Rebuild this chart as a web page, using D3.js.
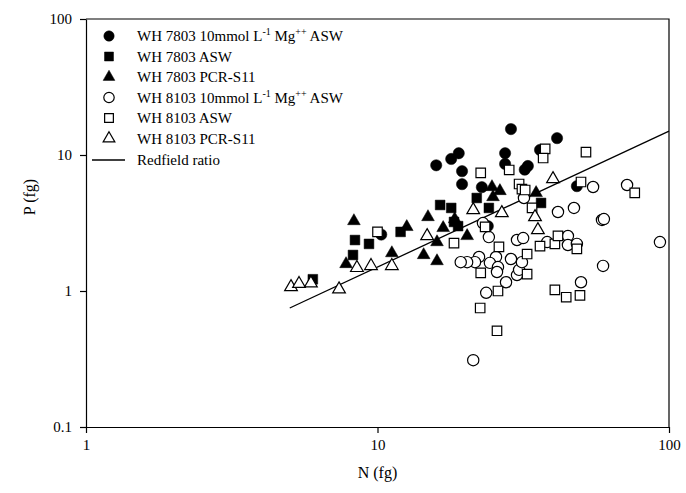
<!DOCTYPE html>
<meta charset="utf-8">
<html lang="en">
<head>
<title>N vs P cell quota</title>
<script src="https://d3js.org/d3.v7.min.js"></script>
<style>
  html, body { margin: 0; padding: 0; background: #fff; }
  svg text { font-family: "Liberation Serif", "Times New Roman", serif; fill: #000; }
  .axis path, .axis line { stroke: #000; stroke-width: 1.2px; }
  .axis text { font-size: 15px; }
</style>
</head>
<body>
<div id="chart"></div>
<script>
// values (N and P in fg per cell)
const wh7803MgN = [15.9, 17.9, 19.0, 19.5, 19.5, 22.8, 28.7, 27.4, 27.4, 36.1, 41.3, 32.8, 32.0, 48.3, 23.9, 10.3];
const wh7803MgP = [8.4, 9.35, 10.3, 7.6, 6.1, 5.8, 15.5, 10.3, 8.6, 10.9, 13.3, 8.3, 7.8, 5.9, 3.0, 2.6];

const wh7803AswN = [6.0, 8.37, 8.24, 9.35, 12.0, 16.4, 17.9, 18.3, 21.9, 24.1, 36.4, 18.9];
const wh7803AswP = [1.22, 2.37, 1.84, 2.22, 2.72, 4.29, 4.08, 3.22, 4.83, 4.08, 4.44, 3.0];

const wh7803PcrN = [7.8, 8.3, 11.2, 12.6, 14.9, 14.4, 16.0, 16.0, 16.8, 18.4, 20.3, 24.7, 26.3, 24.9, 35.0];
const wh7803PcrP = [1.58, 3.27, 1.90, 2.96, 3.50, 1.84, 1.66, 2.29, 2.91, 3.38, 2.54, 5.82, 5.44, 4.91, 5.26];

const wh8103MgN = [54.9, 71.8, 41.6, 47.2, 58.9, 59.8, 31.8, 23.0, 24.1, 30.1, 31.6, 38.2, 45.0, 45.0, 48.3, 93.1,
                   59.4, 49.9, 23.6, 21.3, 27.6, 30.1, 30.6, 31.3, 28.7, 25.5, 22.3, 21.6, 20.3, 19.3, 24.3, 25.9, 25.7];
const wh8103MgP = [5.82, 6.02, 3.81, 4.08, 3.33, 3.38, 4.83, 3.16, 2.49, 2.37, 2.45, 2.29, 2.54, 2.18, 2.22, 2.29,
                   1.53, 1.16, 0.97, 0.31, 1.16, 1.31, 1.43, 1.63, 1.72, 1.78, 1.78, 1.63, 1.63, 1.63, 1.61, 1.50, 1.38];

const wh8103AswN = [37.6, 37.0, 51.9, 22.6, 28.3, 30.6, 31.3, 32.1, 49.9, 76.3, 33.9, 23.4, 18.3, 26.1, 32.6, 36.1,
                    40.6, 41.6, 48.3, 22.6, 32.6, 25.9, 40.6, 44.4, 49.5, 22.5, 25.7, 10.0];
const wh8103AswP = [11.1, 9.5, 10.5, 7.38, 7.76, 6.12, 5.62, 5.53, 6.33, 5.26, 4.08, 2.96, 2.25, 2.11, 1.87, 2.14,
                    2.22, 2.54, 2.04, 1.36, 1.33, 1.0, 1.02, 0.90, 0.93, 0.75, 0.51, 2.72];

const wh8103PcrN = [5.05, 5.38, 5.91, 7.38, 8.5, 9.5, 11.2, 14.8, 21.3, 26.7, 34.7, 35.5, 40.0];
const wh8103PcrP = [1.07, 1.13, 1.14, 1.03, 1.48, 1.53, 1.53, 2.54, 3.94, 3.75, 3.50, 2.81, 6.66];

const redfieldN = [5, 100];
const redfieldP = [0.75, 15];

const xTicks = [1, 10, 100];
const yTicks = [0.1, 1, 10, 100];

const width = 686, height = 493;
const margin = {left: 86, right: 17, top: 19, bottom: 66};

const svg = d3.select("#chart").append("svg")
    .attr("width", width)
    .attr("height", height);

const x = d3.scaleLog().domain([1, 100]).range([margin.left, width - margin.right]);
const y = d3.scaleLog().domain([0.1, 100]).range([height - margin.bottom, margin.top]);

// frame (top and right)
svg.append("path")
    .attr("d", `M${x(1)},${y(100)}H${x(100)}V${y(0.1)}`)
    .attr("fill", "none").attr("stroke", "#000").attr("stroke-width", 1.2);

svg.append("g").attr("class", "axis")
    .attr("transform", `translate(0,${y(0.1)})`)
    .call(d3.axisBottom(x).tickValues(xTicks).tickFormat(d3.format("")).tickSize(6).tickSizeOuter(0).tickPadding(6));

svg.append("g").attr("class", "axis")
    .attr("transform", `translate(${x(1)},0)`)
    .call(d3.axisLeft(y).tickValues(yTicks).tickFormat(d => d < 1 ? "0.1" : d3.format("")(d)).tickSize(6).tickSizeOuter(0).tickPadding(8));

svg.append("text")
    .attr("x", (x(1) + x(100)) / 2).attr("y", 478)
    .attr("text-anchor", "middle").style("font-size", "16px")
    .text("N (fg)");

svg.append("text")
    .attr("transform", `translate(35,${(y(0.1) + y(100)) / 2 - 26}) rotate(-90)`)
    .attr("text-anchor", "middle").style("font-size", "16px")
    .text("P (fg)");

// Redfield line
svg.append("path")
    .datum(d3.zip(redfieldN, redfieldP))
    .attr("d", d3.line().x(d => x(d[0])).y(d => y(d[1])))
    .attr("fill", "none").attr("stroke", "#000").attr("stroke-width", 1.3);

const series = [
  {name: "WH 7803 10mmol", N: wh7803MgN, P: wh7803MgP, type: d3.symbolCircle, size: 100, filled: true},
  {name: "WH 7803 ASW", N: wh7803AswN, P: wh7803AswP, type: d3.symbolSquare, size: 95, filled: true},
  {name: "WH 7803 PCR-S11", N: wh7803PcrN, P: wh7803PcrP, type: d3.symbolTriangle, size: 70, filled: true},
  {name: "WH 8103 10mmol", N: wh8103MgN, P: wh8103MgP, type: d3.symbolCircle, size: 100, filled: false},
  {name: "WH 8103 ASW", N: wh8103AswN, P: wh8103AswP, type: d3.symbolSquare, size: 90, filled: false},
  {name: "WH 8103 PCR-S11", N: wh8103PcrN, P: wh8103PcrP, type: d3.symbolTriangle, size: 70, filled: false}
];

series.forEach(s => {
  const sym = d3.symbol().type(s.type).size(s.size);
  svg.append("g").selectAll("path")
    .data(d3.zip(s.N, s.P))
    .join("path")
    .attr("transform", d => `translate(${x(d[0])},${y(d[1])})`)
    .attr("d", sym)
    .attr("fill", s.filled ? "#000" : "#fff")
    .attr("stroke", "#000")
    .attr("stroke-width", s.filled ? 0.5 : 1.2);
});

// legend
const legend = svg.append("g");
const rowY = [36, 56.5, 77, 97.5, 118, 138.5];
series.forEach((s, i) => {
  legend.append("path")
    .attr("transform", `translate(109,${rowY[i]})`)
    .attr("d", d3.symbol().type(s.type).size(s.size * 0.85))
    .attr("fill", s.filled ? "#000" : "#fff")
    .attr("stroke", "#000")
    .attr("stroke-width", s.filled ? 0.5 : 1.2);
  const t = legend.append("text")
    .attr("x", 137).attr("y", rowY[i] + 5)
    .style("font-size", "15px");
  const strain = i < 3 ? "WH 7803 " : "WH 8103 ";
  const cond = i % 3;
  if (cond === 0) {
    t.append("tspan").text(strain + "10mmol L");
    t.append("tspan").attr("dy", -6).style("font-size", "10px").text("-1");
    t.append("tspan").attr("dy", 6).text(" Mg");
    t.append("tspan").attr("dy", -6).style("font-size", "10px").text("++");
    t.append("tspan").attr("dy", 6).text(" ASW");
  } else if (cond === 1) {
    t.text(strain + "ASW");
  } else {
    t.text(strain + "PCR-S11");
  }
});
legend.append("line")
  .attr("x1", 92).attr("x2", 125).attr("y1", 160).attr("y2", 160)
  .attr("stroke", "#000").attr("stroke-width", 1.3);
legend.append("text")
  .attr("x", 137).attr("y", 165).style("font-size", "15px")
  .text("Redfield ratio");
</script>
</body>
</html>
